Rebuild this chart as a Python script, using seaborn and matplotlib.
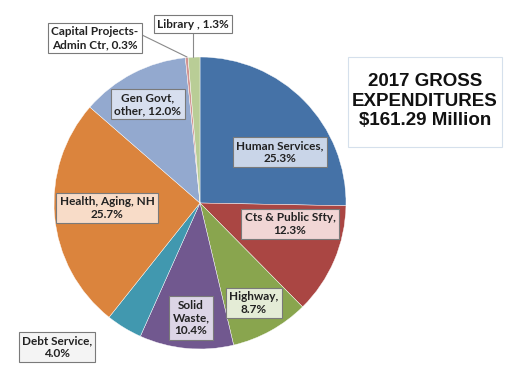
import matplotlib
matplotlib.use("Agg")
import matplotlib.pyplot as plt
from matplotlib.patches import Rectangle
import seaborn as sns

categories = ["Human Services", "Cts & Public Sfty", "Highway", "Solid Waste",
              "Debt Service", "Health, Aging, NH", "Gen Govt, other",
              "Capital Projects-Admin Ctr", "Library"]
shares = [25.3, 12.3, 8.7, 10.4, 4.0, 25.7, 12.0, 0.3, 1.3]
label_texts = ["Human Services,\n25.3%", "Cts & Public Sfty,\n12.3%", "Highway,\n8.7%",
               "Solid\nWaste,\n10.4%", "Debt Service,\n4.0%", "Health, Aging, NH\n25.7%",
               "Gen Govt,\nother, 12.0%", "Capital Projects-\nAdmin Ctr, 0.3%", "Library , 1.3%"]
title_text = "2017 GROSS\nEXPENDITURES\n$161.29 Million"

slice_colors = ["#4572A7", "#AA4643", "#89A54E", "#71588F", "#4198AF",
                "#DB843D", "#93A9CF", "#D19392", "#B9CD96"]
box_colors = ["#C9D5E8", "#F1D6D5", "#E4ECD6", "#DCD5E6", "#F4F4F4",
              "#F8DCC8", "#D7DFEF", "#FFFFFF", "#FFFFFF"]
# label centres in pixel coordinates of the 510x382 image
label_px = [(280, 152), (290, 224), (254, 303), (191, 318), (57, 347),
            (107, 208), (148, 104), (95, 38), (193, 24)]

sns.set_theme(style="white")
plt.rcParams["font.family"] = ["Lato", "DejaVu Sans"]

W, H = 510, 382
cx, cy, R = 200, 203, 146
fig = plt.figure(figsize=(5.1, 3.82), dpi=100)
ax = fig.add_axes([(cx - R) / W, (H - cy - R) / H, 2 * R / W, 2 * R / H])
ax.pie(shares, colors=slice_colors, startangle=90, counterclock=False,
       radius=1, wedgeprops=dict(linewidth=0.3, edgecolor="white"))
ax.set_xlim(-1, 1)
ax.set_ylim(-1, 1)
ax.set_aspect("equal")
ax.axis("off")

def to_data(px, py):
    return (px - cx) / R, (cy - py) / R

for txt, (px, py), fc in zip(label_texts, label_px, box_colors):
    x, y = to_data(px, py)
    ax.text(x, y, txt, ha="center", va="center", fontsize=8.5, fontweight="bold",
            color="#222222", linespacing=1.2, clip_on=False, zorder=5,
            bbox=dict(boxstyle="square,pad=0.28", facecolor=fc,
                      edgecolor="#7A7A7A", linewidth=0.8))

# leader lines
for (p0, p1) in [((140, 34), (187, 57)), ((193, 33), (193, 57))]:
    x0, y0 = to_data(*p0)
    x1, y1 = to_data(*p1)
    ax.plot([x0, x1], [y0, y1], color="#8A8A8A", linewidth=0.8, clip_on=False, zorder=4)

fig.patches.append(Rectangle((348 / W, 1 - 147 / H), 154 / W, 90 / H,
                             transform=fig.transFigure, facecolor="white",
                             edgecolor="#D5E0EC", linewidth=0.8, zorder=1))
fig.text(425 / W, 1 - 101 / H, title_text, ha="center", va="center",
         fontsize=13.5, fontweight="bold", family="Liberation Sans",
         color="#111111", linespacing=1.2, zorder=2)

fig.savefig("out.png", dpi=100)
